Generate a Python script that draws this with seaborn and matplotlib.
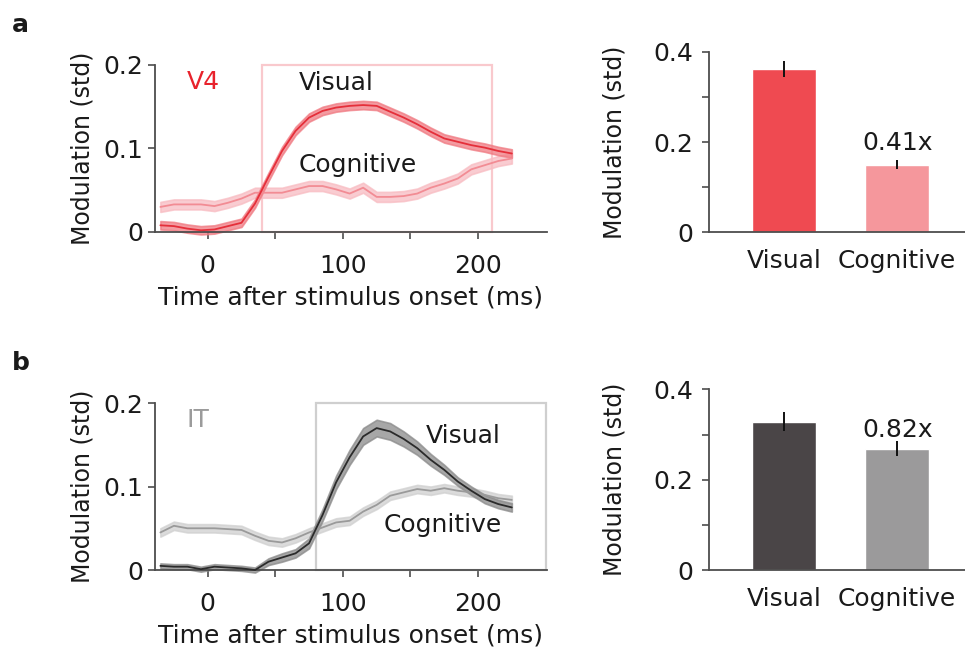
import numpy as np
import pandas as pd
import matplotlib
matplotlib.use("Agg")
import matplotlib.pyplot as plt
from matplotlib.patches import Rectangle
import seaborn as sns

sns.set_theme(style="ticks")
plt.rcParams['font.family'] = ['DejaVu Sans']

# ---------------- data ----------------
time_ms = [-35, -25, -15, -5, 5, 15, 25, 35, 45, 55, 65, 75, 85, 95, 105,
           115, 125, 135, 145, 155, 165, 175, 185, 195, 205, 215, 225]

v4_visual = [0.008, 0.007, 0.004, 0.002, 0.003, 0.007, 0.011, 0.034, 0.066,
             0.097, 0.121, 0.137, 0.145, 0.149, 0.151, 0.152, 0.151, 0.144,
             0.137, 0.129, 0.120, 0.112, 0.108, 0.104, 0.101, 0.097, 0.094]
v4_cognitive = [0.030, 0.033, 0.033, 0.033, 0.031, 0.035, 0.040, 0.047, 0.047,
                0.047, 0.051, 0.055, 0.055, 0.051, 0.046, 0.053, 0.042, 0.042,
                0.043, 0.046, 0.053, 0.058, 0.064, 0.075, 0.080, 0.085, 0.088]
it_visual = [0.005, 0.004, 0.004, 0.001, 0.004, 0.003, 0.002, 0.000, 0.010,
             0.015, 0.020, 0.032, 0.066, 0.105, 0.135, 0.160, 0.170, 0.166,
             0.157, 0.146, 0.132, 0.120, 0.106, 0.095, 0.085, 0.079, 0.075]
it_cognitive = [0.045, 0.053, 0.050, 0.050, 0.050, 0.049, 0.048, 0.041, 0.035,
                0.033, 0.038, 0.045, 0.051, 0.057, 0.059, 0.070, 0.078, 0.089,
                0.093, 0.097, 0.095, 0.098, 0.095, 0.093, 0.090, 0.086, 0.084]

v4_visual_sem = 0.005
v4_cognitive_sem = 0.006
it_visual_sem = [0.003, 0.003, 0.003, 0.003, 0.003, 0.003, 0.003, 0.003, 0.004,
                 0.005, 0.005, 0.006, 0.007, 0.008, 0.009, 0.010, 0.010, 0.010,
                 0.009, 0.008, 0.007, 0.006, 0.005, 0.005, 0.005, 0.005, 0.005]
it_cognitive_sem = 0.005

bar_categories = ["Visual", "Cognitive"]
v4_bar_values = [0.362, 0.150]
v4_bar_sem = [0.017, 0.010]
it_bar_values = [0.328, 0.269]
it_bar_sem = [0.021, 0.016]
ratio_labels = ["0.41x", "0.82x"]

window_v4 = (40, 210)
window_it = (80, 250)

# ---------------- styling ----------------
FS = 18
FS_Y = 17
spine_col = "#4d4d4d"
text_col = "#1a1a1a"

fig = plt.figure(figsize=(9.65, 6.59), dpi=100)

ax_a = fig.add_axes([0.1606, 0.648, 0.4062, 0.2534])
ax_b = fig.add_axes([0.1606, 0.135, 0.4062, 0.2534])
bar_a = fig.add_axes([0.7347, 0.6475, 0.2653, 0.274])
bar_b = fig.add_axes([0.7347, 0.135, 0.2653, 0.274])


def style_axes(ax):
    sns.despine(ax=ax)
    for s in ("left", "bottom"):
        ax.spines[s].set_color(spine_col)
        ax.spines[s].set_linewidth(1.3)
    ax.tick_params(axis="both", colors=spine_col, labelcolor=text_col,
                   labelsize=FS, length=5, width=1.2, direction="out")


def line_panel(ax, vis, vis_sem, cog, cog_sem, vis_col, vis_band, cog_col,
               cog_band, box_col, window, area, area_col, vis_txt, cog_txt):
    t = np.array(time_ms)
    for vals, sem, lc, bc in ((cog, cog_sem, cog_col, cog_band),
                              (vis, vis_sem, vis_col, vis_band)):
        v = np.array(vals)
        s = np.broadcast_to(np.array(sem), v.shape)
        ax.fill_between(t, v - s, v + s, color=bc, alpha=0.75, lw=1.2,
                        edgecolor=bc, zorder=2, clip_on=False)
        sns.lineplot(x=t, y=v, ax=ax, color=lc, lw=1.3, zorder=3,
                     clip_on=False)
    ax.add_patch(Rectangle((window[0], 0), window[1] - window[0], 0.2,
                           fill=False, edgecolor=box_col, lw=1.6, zorder=1,
                           clip_on=False))
    ax.set_xlim(-39, 251)
    ax.set_ylim(0, 0.2)
    ax.set_xticks([0, 50, 100, 150, 200])
    ax.set_xticklabels(["0", "", "100", "", "200"])
    ax.set_yticks([0, 0.1, 0.2])
    ax.set_yticklabels(["0", "0.1", "0.2"])
    style_axes(ax)
    ax.tick_params(axis="x", pad=11)
    ax.set_xlabel("Time after stimulus onset (ms)", fontsize=FS,
                  color=text_col, labelpad=5)
    ax.set_ylabel("Modulation (std)", fontsize=FS_Y, color=text_col,
                  labelpad=6)
    ax.text(area[0], area[1], area[2], color=area_col, fontsize=FS,
            ha="center", va="center")
    ax.text(vis_txt[0], vis_txt[1], "Visual", color=text_col, fontsize=FS,
            ha="center", va="center")
    ax.text(cog_txt[0], cog_txt[1], "Cognitive", color=text_col, fontsize=FS,
            ha="center", va="center")


def bar_panel(ax, values, sems, colors, label, label_y):
    df = pd.DataFrame({"cond": bar_categories, "val": values})
    sns.barplot(data=df, x="cond", y="val", hue="cond", palette=colors,
                ax=ax, width=0.57, legend=False, errorbar=None, saturation=1)
    ax.errorbar(x=[0, 1], y=values, yerr=sems, fmt="none", ecolor="#111111",
                elinewidth=1.4, capsize=0, zorder=5)
    ax.set_xlim(-0.667, 1.6)
    ax.set_ylim(0, 0.4)
    ax.set_yticks([0, 0.1, 0.2, 0.3, 0.4])
    ax.set_yticklabels(["0", "", "0.2", "", "0.4"])
    style_axes(ax)
    ax.tick_params(axis="x", length=0, pad=12)
    ax.tick_params(axis="y", pad=6)
    ax.set_xlabel("")
    ax.set_ylabel("Modulation (std)", fontsize=FS_Y, color=text_col,
                  labelpad=20)
    ax.text(1, label_y, label, color=text_col, fontsize=FS, ha="center",
            va="center")


line_panel(ax_a, v4_visual, v4_visual_sem, v4_cognitive, v4_cognitive_sem,
           "#e52f3a", "#f07a82", "#f28c94", "#f8bcc2", "#f9c9cd", window_v4,
           (-3, 0.18, "V4"), "#e8222c", (95, 0.178), (111, 0.080))
line_panel(ax_b, it_visual, it_visual_sem, it_cognitive, it_cognitive_sem,
           "#2b2b2b", "#8a8a8a", "#9a9a9a", "#d0d0d0", "#cfcfcf", window_it,
           (-7, 0.18, "IT"), "#9b9b9b", (189, 0.16), (174, 0.054))

bar_panel(bar_a, v4_bar_values, v4_bar_sem, ["#ef4a51", "#f5979c"],
          ratio_labels[0], 0.198)
bar_panel(bar_b, it_bar_values, it_bar_sem, ["#4a4547", "#9b9a9b"],
          ratio_labels[1], 0.31)

fig.text(0.012, 0.962, "a", fontsize=FS, fontweight="bold", color=text_col,
         ha="left", va="center")
fig.text(0.012, 0.449, "b", fontsize=FS, fontweight="bold", color=text_col,
         ha="left", va="center")

fig.savefig("out.png", dpi=100)
